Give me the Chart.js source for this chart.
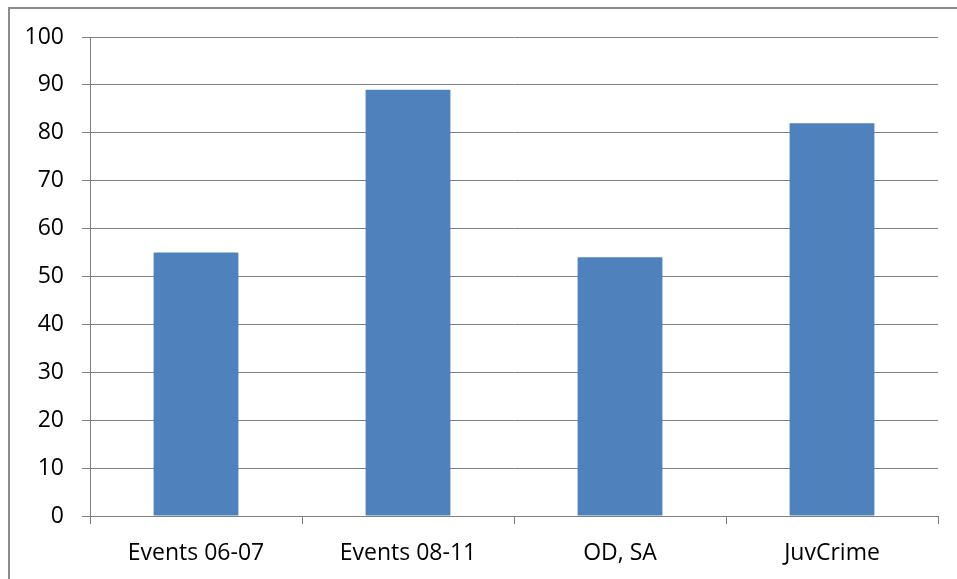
<!DOCTYPE html>
<html>
<head>
<meta charset="utf-8">
<script src="https://cdn.jsdelivr.net/npm/chart.js@4/dist/chart.umd.min.js"></script>
<style>
  html, body { margin: 0; padding: 0; background: #fff; overflow: hidden; }
  #frame { position: absolute; left: 8px; top: 7px; width: 960px; height: 580px; border: 2px solid #8c8c8c; }
  #wrap { position: absolute; left: 0; top: 0; width: 957px; height: 579px; }
</style>
</head>
<body>
<div id="frame"></div>
<div id="wrap"><canvas id="grafico"></canvas></div>
<script>
var categorias = ['Events 06-07', 'Events 08-11', 'OD, SA', 'JuvCrime'];
var valores = [55, 89, 54, 82];
var ticksY = [0, 10, 20, 30, 40, 50, 60, 70, 80, 90, 100];

var fuente = { family: 'Open Sans', size: 23 };

var ctx = document.getElementById('grafico').getContext('2d');
new Chart(ctx, {
    type: 'bar',
    data: {
        labels: categorias,
        datasets: [{
            data: valores,
            backgroundColor: '#4F81BD',
            borderWidth: 0,
            barPercentage: 0.4,
            categoryPercentage: 1.0
        }]
    },
    options: {
        responsive: true,
        maintainAspectRatio: false,
        animation: false,
        layout: { padding: { left: 0, top: 37, right: 19, bottom: 0 } },
        plugins: {
            legend: { display: false },
            tooltip: { enabled: false }
        },
        scales: {
            x: {
                grid: { offset: true, drawOnChartArea: false, color: '#808080', tickLength: 8 },
                border: { color: '#808080', width: 1 },
                ticks: { color: '#000', font: fuente, padding: 16, maxRotation: 0 },
                afterFit: function (s) { s.height = 63; }
            },
            y: {
                min: 0,
                max: 100,
                afterBuildTicks: function (s) { s.ticks = ticksY.map(function (v) { return { value: v }; }); },
                grid: { color: '#808080', tickLength: 8 },
                border: { color: '#808080', width: 1 },
                ticks: { color: '#000', font: fuente, padding: 18 },
                afterFit: function (s) { s.width = 90; }
            }
        }
    }
});
</script>
</body>
</html>
